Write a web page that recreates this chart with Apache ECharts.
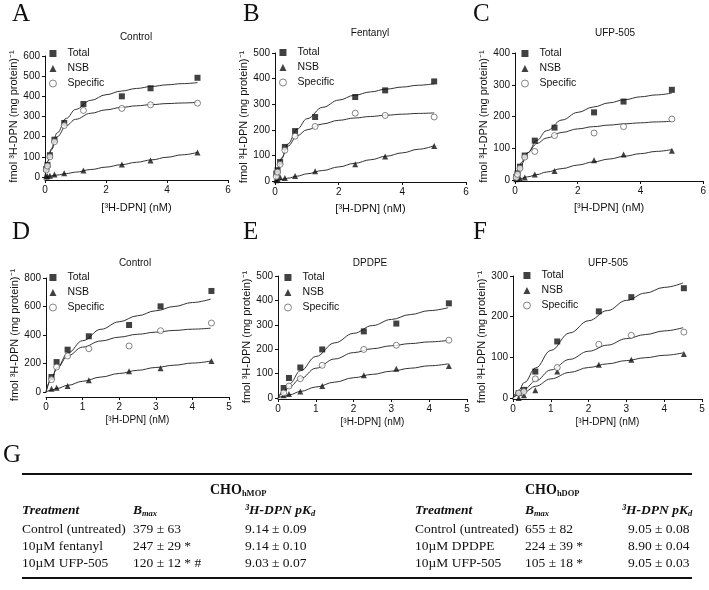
<!DOCTYPE html>
<html><head><meta charset="utf-8">
<script src="https://cdn.jsdelivr.net/npm/echarts/dist/echarts.min.js"></script>
<style>html,body{margin:0;padding:0;background:#fff}#c{width:709px;height:590px}</style>
</head><body><div id="c"></div>
<script>
// ---------- data ----------
const concTop = [0.04, 0.08, 0.16, 0.31, 0.63, 1.26, 2.52, 3.46, 5.0];
const concBottom = [0.15, 0.29, 0.59, 1.17, 2.27, 3.13, 4.52];
const fitXTop = [0, 0.1, 0.2, 0.4, 0.7, 1, 1.5, 2, 2.5, 3, 3.5, 4, 4.5, 5];
const fitXBottom = [0, 0.15, 0.3, 0.6, 1, 1.5, 2, 2.5, 3, 3.5, 4, 4.5];

const aTotal = [40, 60, 108, 185, 268, 362, 400, 440, 492];
const aNsb = [3, 4, 6, 12, 18, 32, 62, 82, 122];
const aSpec = [35, 55, 100, 175, 255, 330, 340, 358, 366];
const aTotalFit = [0, 80, 139, 219, 291, 335, 380, 408, 426, 439, 449, 457, 463, 468];
const aSpecFit = [0, 80, 133, 200, 255, 286, 316, 333, 345, 353, 359, 364, 367, 370];
const aNsbFit = [0, 2.4, 4.9, 9.8, 17, 24, 37, 49, 61, 73, 85, 98, 110, 122];

const bTotal = [29, 42, 74, 133, 195, 250, 328, 354, 389];
const bNsb = [3, 7, 15, 12, 20, 38, 65, 96, 137];
const bSpec = [18, 35, 65, 120, 175, 213, 265, 256, 250];
const bTotalFit = [0, 47, 86, 144, 203, 243, 288, 316, 335, 348, 359, 367, 374, 380];
const bSpecFit = [0, 53, 89, 136, 177, 200, 223, 237, 246, 252, 257, 261, 264, 266];
const bNsbFit = [0, 2.8, 5.5, 11, 19, 28, 41, 55, 69, 83, 97, 110, 124, 138];

const cTotal = [10, 21, 42, 77, 124, 165, 213, 247, 284];
const cNsb = [2, 3, 4, 8, 17, 28, 62, 80, 92];
const cSpec = [8, 18, 37, 72, 90, 140, 148, 168, 192];
const cTotalFit = [0, 26, 49, 85, 125, 155, 189, 213, 230, 243, 253, 262, 268, 274];
const cSpecFit = [0, 32, 55, 86, 115, 132, 150, 161, 168, 173, 177, 180, 183, 185];
const cNsbFit = [0, 2.5, 5, 10, 17, 25, 36, 47, 57, 66, 75, 83, 90, 96];

const dTotal = [105, 210, 297, 391, 470, 601, 709];
const dNsb = [23, 30, 42, 82, 145, 166, 218];
const dSpec = [87, 175, 253, 304, 323, 430, 484];
const dTotalFit = [0, 95, 170, 275, 360, 440, 493, 535, 570, 600, 628, 652];
const dSpecFit = [0, 92, 168, 255, 315, 358, 385, 405, 420, 432, 441, 448];
const dNsbFit = [0, 13, 25, 47, 75, 105, 130, 152, 172, 188, 203, 217];

const eTotal = [41, 82, 125, 199, 273, 305, 388];
const eNsb = [11, 16, 27, 49, 93, 120, 131];
const eSpec = [21, 49, 79, 134, 199, 216, 237];
const eTotalFit = [0, 30, 58, 112, 170, 226, 265, 297, 322, 342, 358, 370];
const eSpecFit = [0, 23, 45, 80, 122, 160, 186, 202, 214, 223, 230, 236];
const eNsbFit = [0, 7, 13, 27, 45, 65, 83, 97, 110, 122, 132, 140];

const fTotal = [12, 20, 65, 139, 213, 248, 270];
const fNsb = [0, 7, 19, 65, 82, 94, 108];
const fSpec = [12, 16, 47, 75, 132, 154, 162];
const fTotalFit = [0, 19, 38, 74, 117, 160, 190, 215, 240, 258, 272, 283];
const fSpecFit = [0, 11, 22, 42, 69, 95, 115, 130, 146, 156, 165, 173];
const fNsbFit = [0, 8, 15, 29, 47, 63, 75, 84, 92, 99, 105, 111];

const panelLetters = ['A', 'B', 'C', 'D', 'E', 'F'];
const panelTitles = ['Control', 'Fentanyl', 'UFP-505', 'Control', 'DPDPE', 'UFP-505'];
const seriesNames = ['Total', 'NSB', 'Specific'];
const yAxisName = 'fmol \u00B3H-DPN (mg protein)\u207B\u00B9';
const xAxisName = '[\u00B3H-DPN] (nM)';

const tableLetter = 'G';
const groupMOP = 'CHO', groupMOPSub = 'hMOP';
const groupDOP = 'CHO', groupDOPSub = 'hDOP';
const colHeads = ['Treatment', 'B', 'max', '\u00B3H-DPN pK', 'd'];
const tableMOP = [
  ['Control (untreated)', '379 \u00B1 63', '9.14 \u00B1 0.09'],
  ['10\u00B5M fentanyl', '247 \u00B1 29 *', '9.14 \u00B1 0.10'],
  ['10\u00B5M UFP-505', '120 \u00B1 12 * #', '9.03 \u00B1 0.07']
];
const tableDOP = [
  ['Control (untreated)', '655 \u00B1 82', '9.05 \u00B1 0.08'],
  ['10\u00B5M DPDPE', '224 \u00B1 39 *', '8.90 \u00B1 0.04'],
  ['10\u00B5M UFP-505', '105 \u00B1 18 *', '9.05 \u00B1 0.03']
];

// ---------- panel assembly ----------
const panelData = [
  {x: concTop, fx: fitXTop, pts: [aTotal, aNsb, aSpec], fits: [aTotalFit, aNsbFit, aSpecFit], xMax: 6, xInt: 2, yMax: 600, yInt: 100},
  {x: concTop, fx: fitXTop, pts: [bTotal, bNsb, bSpec], fits: [bTotalFit, bNsbFit, bSpecFit], xMax: 6, xInt: 2, yMax: 500, yInt: 100},
  {x: concTop, fx: fitXTop, pts: [cTotal, cNsb, cSpec], fits: [cTotalFit, cNsbFit, cSpecFit], xMax: 6, xInt: 2, yMax: 400, yInt: 100},
  {x: concBottom, fx: fitXBottom, pts: [dTotal, dNsb, dSpec], fits: [dTotalFit, dNsbFit, dSpecFit], xMax: 5, xInt: 1, yMax: 800, yInt: 200},
  {x: concBottom, fx: fitXBottom, pts: [eTotal, eNsb, eSpec], fits: [eTotalFit, eNsbFit, eSpecFit], xMax: 5, xInt: 1, yMax: 500, yInt: 100},
  {x: concBottom, fx: fitXBottom, pts: [fTotal, fNsb, fSpec], fits: [fTotalFit, fNsbFit, fSpecFit], xMax: 5, xInt: 1, yMax: 300, yInt: 100}
];

const layout = [
  {grid: {left: 45, top: 56, width: 183, height: 121}, xOff: 3, letter: [12, 14], title: [136, 37], legend: [49, 48], yGap: 21, xGap: 22, xNameSize: 11},
  {grid: {left: 275, top: 53, width: 191, height: 128}, xOff: 1, letter: [243, 14], title: [370, 33], legend: [279, 47], yGap: 21, xGap: 21, xNameSize: 11},
  {grid: {left: 515, top: 53, width: 190, height: 127}, xOff: 1, letter: [473, 14], title: [615, 33], legend: [521, 48], yGap: 21, xGap: 21, xNameSize: 11},
  {grid: {left: 46, top: 278, width: 183, height: 114}, xOff: 5, letter: [12, 232], title: [135, 263], legend: [49, 272], yGap: 22, xGap: 18, xNameSize: 10},
  {grid: {left: 278, top: 276, width: 189, height: 122}, xOff: 1, letter: [243, 232], title: [370, 263], legend: [284, 272], yGap: 20, xGap: 18, xNameSize: 10},
  {grid: {left: 513, top: 276, width: 189, height: 122}, xOff: 1, letter: [473, 232], title: [608, 263], legend: [523, 270], yGap: 19, xGap: 18, xNameSize: 10}
];

const SANS = '"Liberation Sans", Arial, sans-serif';
const SERIF = '"Liberation Serif", "Times New Roman", serif';
const INK = '#111';
const symbols = ['rect', 'triangle', 'circle'];
const symSizes = [6, 6, 6];

const grids = [], xAxes = [], yAxes = [], series = [], legends = [], graphics = [];

function txt(x, y, text, font, align, va, fill) {
  align = align || 'left'; va = va || 'middle';
  return {type: 'text', x: x, y: y, silent: true, z: 10,
    style: {text: text, font: font, fill: fill || INK, textAlign: align, textVerticalAlign: va, align: align, verticalAlign: va}};
}

panelData.forEach((p, i) => {
  const L = layout[i];
  grids.push(L.grid);
  xAxes.push({
    type: 'value', gridIndex: i, min: 0, max: p.xMax, interval: p.xInt, offset: L.xOff,
    name: xAxisName, nameLocation: 'middle', nameGap: L.xGap,
    nameTextStyle: {fontFamily: SANS, fontSize: L.xNameSize, color: INK},
    axisLine: {show: true, onZero: false, lineStyle: {color: INK, width: 1}},
    axisTick: {show: true, length: 3, lineStyle: {color: INK}},
    axisLabel: {fontFamily: SANS, fontSize: 10, color: INK, margin: 5},
    splitLine: {show: false}
  });
  yAxes.push({
    type: 'value', gridIndex: i, min: 0, max: p.yMax, interval: p.yInt,
    name: yAxisName, nameLocation: 'middle', nameRotate: 90, nameGap: L.yGap,
    nameTextStyle: {fontFamily: SANS, fontSize: 11, color: INK},
    axisLine: {show: true, lineStyle: {color: INK, width: 1}},
    axisTick: {show: true, length: 3, lineStyle: {color: INK}},
    axisLabel: {fontFamily: SANS, fontSize: 10, color: INK, margin: 5},
    splitLine: {show: false}
  });
  // fitted curves
  p.fits.forEach((f, k) => {
    series.push({
      name: seriesNames[k] + ' fit', type: 'line', xAxisIndex: i, yAxisIndex: i,
      data: p.fx.map((v, j) => [v, f[j]]), smooth: 0.4, smoothMonotone: 'x',
      showSymbol: false, symbol: 'none', silent: true, z: 1,
      lineStyle: {color: '#333', width: 1}
    });
  });
  // data points
  p.pts.forEach((arr, k) => {
    series.push({
      name: seriesNames[k], type: 'scatter', xAxisIndex: i, yAxisIndex: i,
      data: p.x.map((v, j) => [v, arr[j]]), symbol: symbols[k], symbolSize: symSizes[k],
      silent: true, z: 3,
      itemStyle: k === 2 ? {color: '#fff', borderColor: '#555', borderWidth: 0.9} : {color: INK}
    });
  });
  legends.push({
    left: L.legend[0], top: L.legend[1], orient: 'vertical', selectedMode: false, padding: 0,
    itemWidth: 7, itemHeight: 7, itemGap: 4,
    textStyle: {fontFamily: SANS, fontSize: 10.5, color: INK, padding: [0, 0, 0, 6]},
    data: seriesNames.map((n, k) => ({name: n, icon: symbols[k],
      itemStyle: k === 2 ? {color: '#fff', borderColor: '#555', borderWidth: 0.9} : {color: INK}}))
  });
  graphics.push(txt(L.letter[0], L.letter[1], panelLetters[i], '25px ' + SERIF));
  graphics.push(txt(L.title[0], L.title[1], panelTitles[i], '10px ' + SANS, 'center'));
});

// ---------- table G ----------
const cv = document.createElement('canvas').getContext('2d');
function tw(t, font) { cv.font = font; return cv.measureText(t).width; }
const fRow = '13.5px ' + SERIF;
const fHead = 'italic bold 13.5px ' + SERIF;
const fSub = 'italic bold 8.5px ' + SERIF;
const fGroup = 'bold 14px ' + SERIF;
const fGroupSub = 'bold 8.5px ' + SERIF;
const tbl = {x1: 22, x2: 692, top: 474, bottom: 578, groupY: 490, headY: 511, rowY: [529, 546, 563]};
const colsL = [22, 133, 245], colsR = [415, 525, 622];
const groupX = [210, 525];

graphics.push(txt(3, 455, tableLetter, '25px ' + SERIF));
graphics.push({type: 'line', silent: true, shape: {x1: tbl.x1, y1: tbl.top, x2: tbl.x2, y2: tbl.top}, style: {stroke: INK, lineWidth: 2}});
graphics.push({type: 'line', silent: true, shape: {x1: tbl.x1, y1: tbl.bottom, x2: tbl.x2, y2: tbl.bottom}, style: {stroke: INK, lineWidth: 2}});

[[groupMOP, groupMOPSub, colsL, tableMOP, groupX[0], 0], [groupDOP, groupDOPSub, colsR, tableDOP, groupX[1], 6]].forEach(([g, gs, cols, rows, gx, valShift]) => {
  graphics.push(txt(gx, tbl.groupY, g, fGroup));
  graphics.push(txt(gx + tw(g, fGroup), tbl.groupY + 4, gs, fGroupSub));
  graphics.push(txt(cols[0], tbl.headY, colHeads[0], fHead));
  graphics.push(txt(cols[1], tbl.headY, colHeads[1], fHead));
  graphics.push(txt(cols[1] + tw(colHeads[1], fHead), tbl.headY + 3, colHeads[2], fSub));
  graphics.push(txt(cols[2], tbl.headY, colHeads[3], fHead));
  graphics.push(txt(cols[2] + tw(colHeads[3], fHead), tbl.headY + 3, colHeads[4], fSub));
  rows.forEach((r, j) => {
    r.forEach((cell, c) => graphics.push(txt(cols[c] + (c === 2 ? valShift : 0), tbl.rowY[j], cell, fRow)));
  });
});

const chart = echarts.init(document.getElementById('c'), null, {renderer: 'canvas'});
chart.setOption({
  animation: false,
  backgroundColor: '#fff',
  grid: grids, xAxis: xAxes, yAxis: yAxes, series: series, legend: legends,
  graphic: {elements: graphics}
});
</script></body></html>
